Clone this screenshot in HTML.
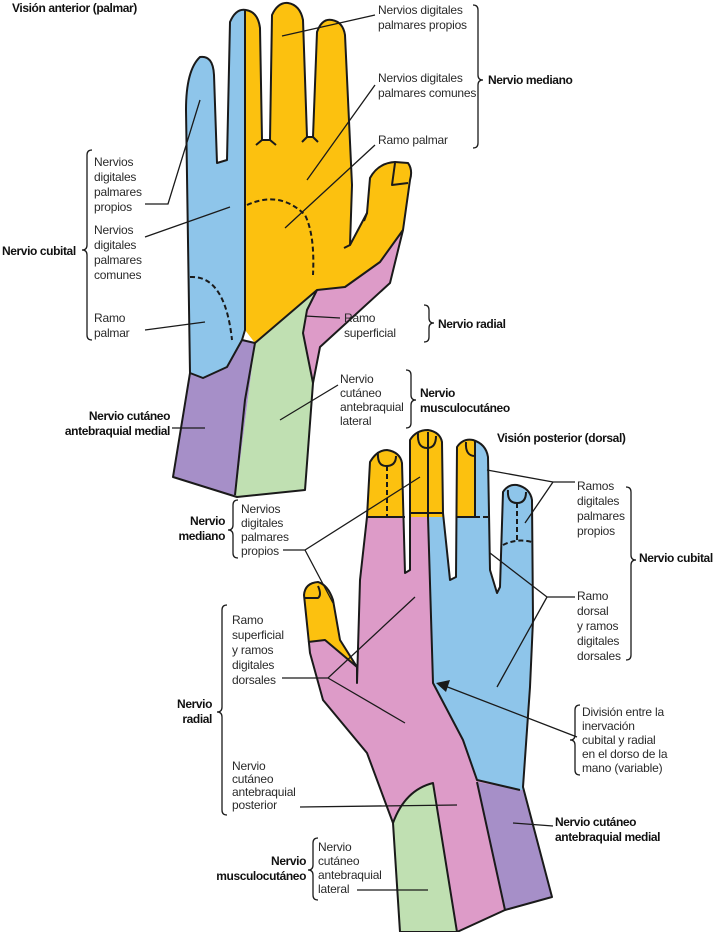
<!DOCTYPE html>
<html><head><meta charset="utf-8"><style>
html,body{margin:0;padding:0;background:#fff;}
svg{display:block;}
text{font-family:"Liberation Sans",sans-serif;font-size:12px;fill:#2a2a2a;letter-spacing:-0.2px;}
.b{font-weight:bold;font-size:12px;fill:#111;letter-spacing:-0.4px;}
</style></head><body>
<svg width="720" height="932" viewBox="0 0 720 932" xmlns="http://www.w3.org/2000/svg">
<defs>
<clipPath id="h1"><path id="o1" d="M190,373 L186,110 Q186,70 200,57 Q213,55 214,75 L217,163 L227,160 L230,22 Q236,8 246,10 Q258,12 260,28 L262,140 L270,140 L272,15 Q278,2 288,3 Q300,5 303,20 L307,137 L313,137 L317,32 Q322,18 332,20 Q343,22 345,35 L352,185 L350,245 L367,213 L370,178 Q378,163 395,162 L408,163 Q413,170 410,180 L403,230 L390,283 L320,347 L313,383 L305,490 L237,497 L173,477 Z"/></clipPath>
<clipPath id="h2"><path id="o2" d="M393,823 L367,753 L323,700 L310,653 L304,595 Q305,583 318,582 Q328,585 333,600 L340,640 L357,667 L357,683 L360,580 L367,517 L370,462 Q377,450 387,450 Q400,452 402,463 L405,573 L410,570 L410,440 Q416,430 428,430 Q440,432 442,442 L443,513 L450,580 L456,577 L457,447 Q463,438 473,440 Q486,444 488,457 L490,570 L497,593 L500,587 L503,492 Q508,484 517,485 Q530,488 532,500 L533,620 L530,687 L523,787 L552,897 L505,910 L457,932 L400,932 Z"/></clipPath>
</defs>

<g clip-path="url(#h1)">
<polygon fill="#8ec5ea" points="150,0 245,0 245,330 242,340 227,367 203,378 190,373 150,380"/>
<polygon fill="#fcc10f" points="245,0 450,0 450,228 403,230 380,262 345,287 317,290 255,343 245,330"/>
<polygon fill="#dd9bc8" points="317,290 345,287 380,262 403,230 450,228 450,400 313,383 303,333 307,310"/>
<polygon fill="#c0e0b2" points="255,343 317,290 307,310 303,333 313,383 320,500 235,500"/>
<polygon fill="#a68fc8" points="150,380 190,373 203,378 227,367 242,340 255,343 235,500 150,500"/>
</g>
<g fill="none" stroke="#1a1a1a" stroke-width="2" stroke-linejoin="round">
<use href="#o1"/>
<polyline points="245,10 245,330 242,340 227,367 203,378 190,373"/>
<polyline points="242,340 255,343 317,290 345,287 380,262 403,230"/>
<polyline points="317,290 307,310 303,333 313,383"/>
<polyline points="255,343 245,400 235,495"/>
<path d="M262,140 l-6,5 M270,140 l6,5 M307,137 l-5,5 M313,137 l5,5 M350,245 l-6,3 M367,213 l-3,8"/>
<path d="M395,163 L392,185 L408,183"/>
</g>
<g fill="none" stroke="#1a1a1a" stroke-width="2" stroke-dasharray="5,3">
<path d="M247,205 Q280,190 305,215 Q315,235 313,275"/>
<path d="M190,277 Q225,275 232,340"/>
</g>

<g clip-path="url(#h2)">
<rect x="280" y="420" width="300" height="520" fill="#dd9bc8"/>
<polygon fill="#fcc10f" points="360,420 475,420 475,517 360,517"/>
<polygon fill="#fcc10f" points="290,570 345,570 357,667 325,640 290,645"/>
<polygon fill="#8ec5ea" points="475,420 560,420 560,792 520,790 477,780 463,740 433,683 428,517 475,517"/>
<path fill="#c0e0b2" d="M380,950 L380,830 L393,823 Q405,790 433,783 L457,932 Z"/>
<polygon fill="#a68fc8" points="477,782 520,790 560,790 560,932 505,910"/>
</g>
<g fill="none" stroke="#1a1a1a" stroke-width="2" stroke-linejoin="round">
<use href="#o2"/>
<path d="M367,517 L405,517 M410,513 L443,513 M457,517 L475,517"/>
<polyline points="475,440 475,517"/>
<polyline points="428,432 428,517 433,683 463,740 477,780 520,790"/>
<path d="M393,823 Q405,790 433,783 L457,932"/>
<path d="M477,782 L505,910"/>
<path d="M308,642 L325,640 L357,667"/>
<path d="M378,452 Q377,466 386,466 Q396,466 396,456"/>
<path d="M418,433 Q417,448 427,448 Q436,448 436,436"/>
<path d="M466,442 Q465,456 475,456"/>
<path d="M508,490 Q507,503 517,503 Q526,503 526,492"/>
<path d="M305,598 L318,598 Q322,595 318,586"/>
</g>
<g fill="none" stroke="#1a1a1a" stroke-width="2" stroke-dasharray="5,3">
<path d="M387,466 L387,517 M428,448 L428,513 M517,503 L517,543 M475,517 L490,517 M503,545 Q517,538 532,542"/>
</g>

<g fill="none" stroke="#1a1a1a" stroke-width="1.3">
<path d="M375,15 L282,36 M375,85 L307,180 M375,145 L285,228"/>
<path d="M145,204 L168,204 L200,100 M145,237 L230,207 M145,330 L205,322 M172,428 L205,428"/>
<path d="M305,316 L340,318 M338,385 L280,420"/>
<path d="M283,550 L305,550 L420,477 M305,550 L333,603"/>
<path d="M282,678 L328,678 L415,597 M328,678 L405,723"/>
<path d="M300,807 L457,805 M357,890 L428,890"/>
<path d="M575,482 L553,482 L487,470 M553,482 L525,523"/>
<path d="M575,597 L547,597 L490,553 M547,597 L497,687"/>
<path d="M553,826 L513,823"/>
<path d="M577,737 L445,686"/>
</g>
<polygon points="436,683 450,680 446,692" fill="#1a1a1a"/>

<g fill="none" stroke="#1a1a1a" stroke-width="1.3">
<path d="M473 5 Q478 5 478 10 L478 75 Q478 80 483 80 Q478 80 478 85 L478 143 Q478 148 473 148"/>
<path d="M92 150 Q87 150 87 155 L87 245 Q87 250 82 250 Q87 250 87 255 L87 335 Q87 340 92 340"/>
<path d="M424 305 Q429 305 429 310 L429 318 Q429 323 434 323 Q429 323 429 328 L429 337 Q429 342 424 342"/>
<path d="M406 370 Q411 370 411 375 L411 395 Q411 400 416 400 Q411 400 411 405 L411 423 Q411 428 406 428"/>
<path d="M238 500 Q233 500 233 505 L233 525 Q233 530 228 530 Q233 530 233 535 L233 553 Q233 558 238 558"/>
<path d="M227 605 Q222 605 222 610 L222 707 Q222 712 217 712 Q222 712 222 717 L222 810 Q222 815 227 815"/>
<path d="M318 838 Q313 838 313 843 L313 865 Q313 870 308 870 Q313 870 313 875 L313 895 Q313 900 318 900"/>
<path d="M626 487 Q631 487 631 492 L631 555 Q631 560 636 560 Q631 560 631 565 L631 655 Q631 660 626 660"/>
<path d="M580 705 Q575 705 575 710 L575 735 Q575 740 570 740 Q575 740 575 745 L575 770 Q575 775 580 775"/>
</g>

<text class="b" x="12" y="12" font-size="12.5">Visión anterior (palmar)</text>
<text x="378" y="14">Nervios digitales<tspan x="378" dy="15">palmares propios</tspan></text>
<text x="378" y="82">Nervios digitales<tspan x="378" dy="15">palmares comunes</tspan></text>
<text x="378" y="144">Ramo palmar</text>
<text class="b" x="488" y="84">Nervio mediano</text>
<text x="94" y="166">Nervios<tspan x="94" dy="15">digitales</tspan><tspan x="94" dy="15">palmares</tspan><tspan x="94" dy="15">propios</tspan></text>
<text x="94" y="234">Nervios<tspan x="94" dy="15">digitales</tspan><tspan x="94" dy="15">palmares</tspan><tspan x="94" dy="15">comunes</tspan></text>
<text x="94" y="322">Ramo<tspan x="94" dy="15">palmar</tspan></text>
<text class="b" x="2" y="255">Nervio cubital</text>
<text class="b" x="170" y="420" text-anchor="end">Nervio cutáneo<tspan x="170" dy="15">antebraquial medial</tspan></text>
<text x="344" y="322">Ramo<tspan x="344" dy="15">superficial</tspan></text>
<text class="b" x="438" y="328">Nervio radial</text>
<text x="340" y="383">Nervio<tspan x="340" dy="14">cutáneo</tspan><tspan x="340" dy="14">antebraquial</tspan><tspan x="340" dy="14">lateral</tspan></text>
<text class="b" x="420" y="397">Nervio<tspan x="420" dy="15">musculocutáneo</tspan></text>

<text class="b" x="497" y="442" font-size="12.5">Visión posterior (dorsal)</text>
<text x="577" y="490">Ramos<tspan x="577" dy="15">digitales</tspan><tspan x="577" dy="15">palmares</tspan><tspan x="577" dy="15">propios</tspan></text>
<text x="577" y="600">Ramo<tspan x="577" dy="15">dorsal</tspan><tspan x="577" dy="15">y ramos</tspan><tspan x="577" dy="15">digitales</tspan><tspan x="577" dy="15">dorsales</tspan></text>
<text class="b" x="639" y="562">Nervio cubital</text>
<text x="582" y="716">División entre la<tspan x="582" dy="14">inervación</tspan><tspan x="582" dy="14">cubital y radial</tspan><tspan x="582" dy="14">en el dorso de la</tspan><tspan x="582" dy="14">mano (variable)</tspan></text>
<text class="b" x="555" y="826">Nervio cutáneo<tspan x="555" dy="15">antebraquial medial</tspan></text>
<text class="b" x="225" y="525" text-anchor="end">Nervio<tspan x="225" dy="15">mediano</tspan></text>
<text x="241" y="513">Nervios<tspan x="241" dy="14">digitales</tspan><tspan x="241" dy="14">palmares</tspan><tspan x="241" dy="14">propios</tspan></text>
<text x="232" y="624">Ramo<tspan x="232" dy="15">superficial</tspan><tspan x="232" dy="15">y ramos</tspan><tspan x="232" dy="15">digitales</tspan><tspan x="232" dy="15">dorsales</tspan></text>
<text x="232" y="770">Nervio<tspan x="232" dy="13">cutáneo</tspan><tspan x="232" dy="13">antebraquial</tspan><tspan x="232" dy="13">posterior</tspan></text>
<text class="b" x="212" y="708" text-anchor="end">Nervio<tspan x="212" dy="15">radial</tspan></text>
<text class="b" x="306" y="865" text-anchor="end">Nervio<tspan x="306" dy="15">musculocutáneo</tspan></text>
<text x="318" y="851">Nervio<tspan x="318" dy="14">cutáneo</tspan><tspan x="318" dy="14">antebraquial</tspan><tspan x="318" dy="14">lateral</tspan></text>
</svg>
</body></html>
